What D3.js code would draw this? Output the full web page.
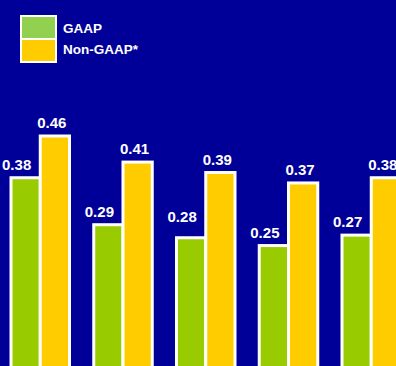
<!DOCTYPE html>
<html>
<head>
<meta charset="utf-8">
<script src="https://cdn.jsdelivr.net/npm/d3@7"></script>
<style>
  html, body { margin: 0; padding: 0; background: #000099; overflow: hidden; }
  svg { display: block; }
  text { font-family: "Liberation Sans", Arial, sans-serif; font-weight: bold; fill: #ffffff; }
</style>
</head>
<body>
<svg id="chart" width="396" height="366"></svg>
<script>
// data (periods are not labelled in the image)
var periods = ["P1", "P2", "P3", "P4", "P5"];
var seriesNames = ["GAAP", "Non-GAAP*"];
var gaapValues = [0.38, 0.29, 0.265, 0.25, 0.27];
var nonGaapValues = [0.46, 0.41, 0.39, 0.37, 0.38];
var gaapLabels = ["0.38", "0.29", "0.28", "0.25", "0.27"];
var nonGaapLabels = ["0.46", "0.41", "0.39", "0.37", "0.38"];
var barColors = ["#99cc00", "#ffcc00"];
var legendColors = ["#92d050", "#ffcc00"];

var svg = d3.select("#chart");

var rows = periods.map(function (p, i) {
    return [
        {period: p, s: 0, value: gaapValues[i], label: gaapLabels[i]},
        {period: p, s: 1, value: nonGaapValues[i], label: nonGaapLabels[i]}
    ];
});

// baseline sits just below the visible area
var y = d3.scaleLinear().domain([0, 0.46]).range([376, 136]);

var x = d3.scaleBand()
    .domain(periods)
    .range([11, 400.5])
    .paddingInner(0.293)
    .paddingOuter(0);

var x1 = d3.scaleBand()
    .domain([0, 1])
    .range([0, x.bandwidth()]);

var g = svg.selectAll(".grp")
    .data(rows)
    .enter().append("g")
    .attr("class", "grp")
    .attr("transform", function (d) { return "translate(" + x(d[0].period) + ",0)"; });

g.selectAll("rect")
    .data(function (d) { return d; })
    .enter().append("rect")
    .attr("x", function (d) { return x1(d.s); })
    .attr("y", function (d) { return y(d.value); })
    .attr("width", x1.bandwidth())
    .attr("height", function (d) { return y(0) - y(d.value); })
    .attr("fill", function (d) { return barColors[d.s]; })
    .attr("stroke", "#ffffff")
    .attr("stroke-width", 3);

g.selectAll("text")
    .data(function (d) { return d; })
    .enter().append("text")
    .attr("x", function (d) { return x1(d.s) + x1.bandwidth() / 2 + (d.s == 0 ? -9 : -3); })
    .attr("y", function (d) { return y(+d.label) - 8; })
    .attr("text-anchor", "middle")
    .style("font-size", "15px")
    .text(function (d) { return d.label; });

// legend
var legend = svg.append("g");
legend.selectAll("rect")
    .data(seriesNames)
    .enter().append("rect")
    .attr("x", 21)
    .attr("y", function (d, i) { return 16 + i * 23; })
    .attr("width", 35)
    .attr("height", 23)
    .attr("fill", function (d, i) { return legendColors[i]; })
    .attr("stroke", "#ffffff")
    .attr("stroke-width", 2);

legend.selectAll("text")
    .data(seriesNames)
    .enter().append("text")
    .attr("x", 63)
    .attr("y", function (d, i) { return 33 + i * 21; })
    .style("font-size", "13.5px")
    .text(function (d) { return d; });
</script>
</body>
</html>
